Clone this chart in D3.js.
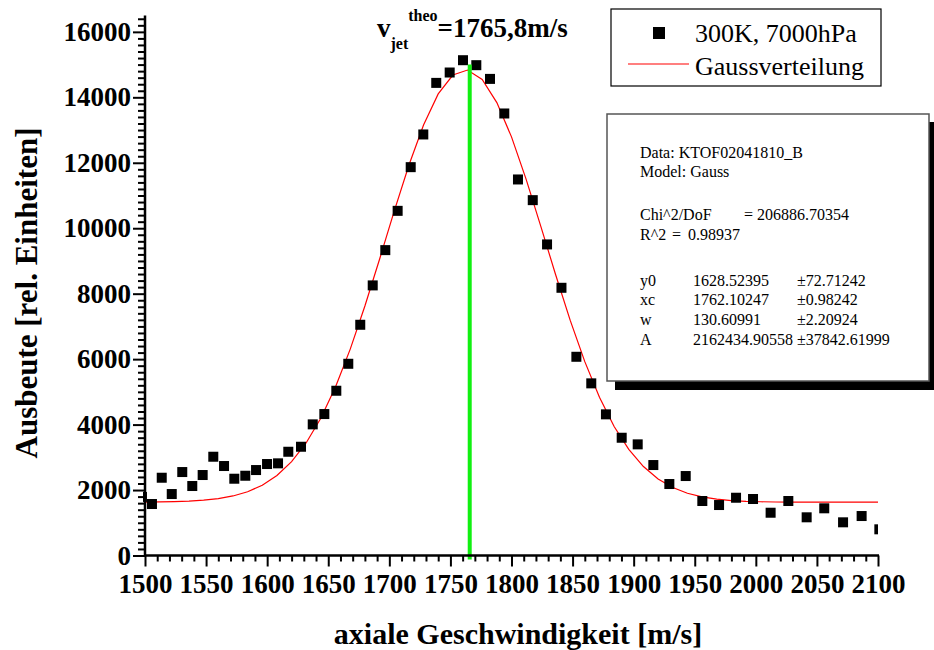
<!DOCTYPE html>
<html><head><meta charset="utf-8">
<script src="https://cdn.jsdelivr.net/npm/d3@7"></script>
<style>body{margin:0;background:#fff}svg{display:block}text{font-family:"Liberation Serif","Times New Roman",serif}</style>
</head><body><svg id="c" width="934" height="650"></svg>
<script>
// ---- data ----
const velocity = [1497.5,1505.7,1513.7,1521.9,1530.5,1538.7,1547.2,1555.9,1564.7,1573.1,1582.1,1590.9,1599.9,1608.9,1617.3,1627.7,1637.3,1646.8,1656.6,1666.4,1676.2,1686.4,1696.7,1706.8,1717.5,1727.8,1738.4,1749.4,1760.3,1771.2,1782.4,1794.1,1805.3,1817.4,1829.1,1840.9,1853.1,1865.3,1877.3,1890.2,1903.3,1916.1,1929.2,1942.6,1956.2,1969.9,1983.8,1997.7,2012.1,2026.6,2041.6,2056.0,2071.4,2086.6,2101.1];
const yieldVals = [1790,1573,2376,1878,2550,2123,2459,3018,2734,2346,2437,2611,2795,2816,3170,3323,4007,4322,5034,5858,7050,8253,9331,10531,11866,12865,14441,14758,15134,14982,14563,13506,11490,10858,9505,8180,6072,5260,4313,3598,3396,2764,2184,2428,1665,1542,1765,1726,1307,1665,1167,1442,1014,1206,800];
// Gauss fit parameters (as printed in the chart's stats box)
const fitParams = {y0:1628.52395, xc:1762.10247, w:130.60991, A:2162434.90558};
const fitX = d3.range(1500, 2100.001, 12);
const xTicks = [1500,1550,1600,1650,1700,1750,1800,1850,1900,1950,2000,2050,2100];
const yTicks = [0,2000,4000,6000,8000,10000,12000,14000,16000];
const vTheo = 1765.8, vTheoTop = 15000;
const statsLines = [
  ["Data: KTOF02041810_B"],["Model: Gauss"],[""],
  ["Chi^2/DoF","=","206886.70354"],["R^2","=","0.98937"],[""],
  ["y0","1628.52395","±72.71242"],["xc","1762.10247","±0.98242"],["w","130.60991","±2.20924"],["A","2162434.90558","±37842.61999"]];
const legendLabels = ["300K, 7000hPa","Gaussverteilung"];

// ---- drawing ----
const svg = d3.select("#c");
const x = d3.scaleLinear().domain([1500,2100]).range([145,878]);
const y = d3.scaleLinear().domain([0,16500]).range([555.5,15.5]);

svg.append("clipPath").attr("id","clip").append("rect")
  .attr("x",143).attr("y",0).attr("width",878-143).attr("height",556);

const plot = svg.append("g").attr("clip-path","url(#clip)");
const gauss = v => fitParams.y0 + fitParams.A/(fitParams.w*Math.sqrt(Math.PI/2))*Math.exp(-2*Math.pow((v-fitParams.xc)/fitParams.w,2));
plot.append("path").datum(fitX)
  .attr("d", d3.line().x(d=>x(d)).y(d=>y(gauss(d))))
  .attr("fill","none").attr("stroke","#ff0000").attr("stroke-width",1.2);
const S=10;
plot.selectAll("rect.pt").data(velocity).join("rect").attr("class","pt")
  .attr("x",(d)=>x(d)-S/2).attr("y",(d,i)=>y(yieldVals[i])-S/2)
  .attr("width",S).attr("height",S).attr("fill","#000");

svg.append("line").attr("x1",x(vTheo)).attr("x2",x(vTheo))
  .attr("y1",y(0)+4).attr("y2",y(vTheoTop))
  .attr("stroke","#11f011").attr("stroke-width",4);

// axes
const xAxis = svg.append("g").attr("transform",`translate(0,${y(0)})`)
  .call(d3.axisBottom(x).tickValues(xTicks).tickSize(11).tickFormat(d3.format("d")));
const xMinor = svg.append("g").attr("transform",`translate(0,${y(0)})`)
  .call(d3.axisBottom(x).tickValues(d3.range(1500,2101,10).filter(v=>v%50)).tickSize(6).tickFormat(""));
const yAxis = svg.append("g").attr("transform",`translate(${x(1500)},0)`)
  .call(d3.axisLeft(y).tickValues(yTicks).tickSize(12).tickFormat(d3.format("d")));
const yMinor = svg.append("g").attr("transform",`translate(${x(1500)},0)`)
  .call(d3.axisLeft(y).tickValues(d3.range(0,16401,200).filter(v=>v%2000)).tickSize(7).tickFormat(""));
[xAxis,xMinor,yAxis,yMinor].forEach(g=>{
  g.select(".domain").attr("stroke","#000").attr("stroke-width",2.5);
  g.selectAll(".tick line").attr("stroke","#000").attr("stroke-width",2);
});
xMinor.select(".domain").remove(); yMinor.select(".domain").remove();
xAxis.select(".domain").attr("d",`M${x(1500)-1},0H${x(2100)+1}`);
yAxis.select(".domain").attr("d",`M0,${y(0)+1}V${y(16500)}`);
xAxis.selectAll(".tick text").attr("font-size",27).attr("font-weight","bold").attr("fill","#000").attr("dy","0.85em").attr("y",15);
yAxis.selectAll(".tick text").attr("font-size",27).attr("font-weight","bold").attr("fill","#000").attr("x",-14);

// axis titles
svg.append("text").attr("x",518).attr("y",644).attr("text-anchor","middle")
  .attr("font-size",30).attr("font-weight","bold").text("axiale Geschwindigkeit [m/s]");
svg.append("text").attr("transform","translate(37,293) rotate(-90)").attr("text-anchor","middle")
  .attr("font-size",31).attr("font-weight","bold").text("Ausbeute [rel. Einheiten]");

// title
const t = svg.append("text").attr("font-weight","bold").attr("x",377).attr("y",37);
t.append("tspan").attr("font-size",27).text("v");
t.append("tspan").attr("font-size",16).attr("dy",12).text("jet");
t.append("tspan").attr("font-size",16).attr("dy",-28).text("theo");
t.append("tspan").attr("font-size",27).attr("dy",16).text("=1765,8m/s");

// legend
const lg = svg.append("g");
lg.append("rect").attr("x",611).attr("y",9).attr("width",270).attr("height",77)
  .attr("fill","#fff").attr("stroke","#000").attr("stroke-width",1.2);
lg.append("rect").attr("x",653).attr("y",27).attr("width",12).attr("height",12).attr("fill","#000");
lg.append("line").attr("x1",628).attr("x2",689).attr("y1",64).attr("y2",64).attr("stroke","#ff0000").attr("stroke-width",1.2);
lg.selectAll("text").data(legendLabels).join("text")
  .attr("x",695).attr("y",(d,i)=>42+i*33).attr("font-size",26).text(d=>d);

// stats box
const sb = svg.append("g");
sb.append("rect").attr("x",615).attr("y",122).attr("width",330).attr("height",268).attr("fill","#000");
sb.append("rect").attr("x",607).attr("y",114).attr("width",322).attr("height",267)
  .attr("fill","#fff").attr("stroke","#555").attr("stroke-width",1.5);
const rowY = [158,177,0,220,240,0,286,305,325,345];
const colX = [[640],[640],[],[640,744,757],[640,672,688],[],[640,693,797],[640,693,797],[640,693,797],[640,693,797]];
statsLines.forEach((ln,i)=>{
  ln.forEach((s,j)=>{ if(!s) return;
    sb.append("text").attr("x",colX[i][j]).attr("y",rowY[i]).attr("font-size",16).text(s);
  });
});
</script></body></html>
